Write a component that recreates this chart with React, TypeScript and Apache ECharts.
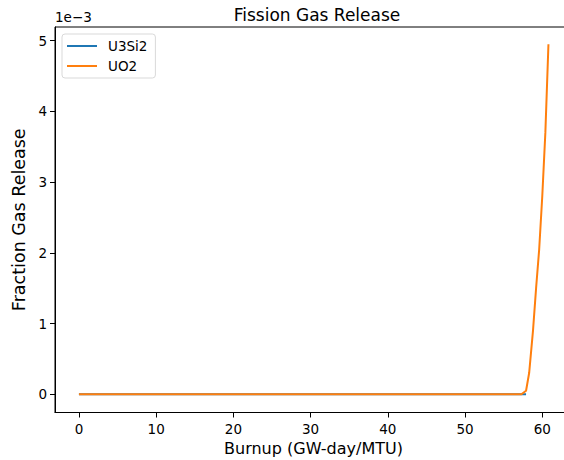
import React, { useEffect, useRef } from "react";
import * as echarts from "echarts";

// Burnup (GW-day/MTU) and fission gas release fraction for each fuel
const u3si2Burnup = [0, 10, 20, 30, 40, 50, 57.9];
const u3si2Release = [0, 0, 0, 0, 0, 0, 0];

const uo2Burnup = [0, 10, 20, 30, 40, 50, 57.3, 57.9, 58.3, 58.8, 59.2, 59.6, 60.0, 60.4, 60.8];
const uo2Release = [0, 0, 0, 0, 0, 0, 0, 0.00005, 0.0003, 0.0009, 0.0015, 0.00205, 0.0028, 0.0037, 0.00495];

const xTicks = [0, 10, 20, 30, 40, 50, 60];
const yTicks = [0, 0.001, 0.002, 0.003, 0.004, 0.005];

const FONT = "DejaVu Sans";
const BLUE = "#1f77b4";
const ORANGE = "#ff7f0e";

function pairs(xs: number[], ys: number[]) {
  return xs.map((x, i) => [x, ys[i]]);
}

export default function App() {
  const ref = useRef<HTMLDivElement>(null);

  useEffect(() => {
    if (!ref.current) return;
    const chart = echarts.init(ref.current, null, { renderer: "svg" });
    chart.setOption({
      animation: false,
      backgroundColor: "#ffffff",
      title: {
        text: "Fission Gas Release",
        left: 312,
        textAlign: "center",
        top: 1,
        textStyle: { fontFamily: FONT, fontSize: 17, fontWeight: "normal", color: "#000" },
      },
      legend: {
        left: 62,
        top: 34,
        orient: "vertical",
        icon: "rect",
        itemWidth: 30,
        itemHeight: 2,
        itemGap: 6,
        padding: [5, 8, 5, 5],
        borderColor: "#d9d9d9",
        borderWidth: 1,
        borderRadius: 3,
        backgroundColor: "rgba(255,255,255,0.8)",
        textStyle: { fontFamily: FONT, fontSize: 13.5, color: "#000", padding: [0, 0, 0, 6] },
        data: ["U3Si2", "UO2"],
      },
      // scale multiplier shown above the y axis
      graphic: [
        {
          type: "text",
          left: 55,
          top: 10,
          style: { text: "1e\u22123", font: `13.5px '${FONT}'`, fill: "#000" },
        },
      ],
      grid: {
        left: 55,
        width: 517,
        top: 27,
        height: 385.5,
        outerBoundsMode: "none",
        show: true,
        borderColor: "#000",
        borderWidth: 1,
        containLabel: false,
      },
      xAxis: {
        type: "value",
        min: -3.1,
        max: 63.85,
        name: "Burnup (GW-day/MTU)",
        nameLocation: "middle",
        nameGap: 27,
        nameTextStyle: { fontFamily: FONT, fontSize: 16, color: "#000" },
        axisLine: { show: true, onZero: false, lineStyle: { color: "#000", width: 1 } },
        axisTick: { show: true, customValues: xTicks, length: 5, lineStyle: { color: "#000" } },
        axisLabel: {
          customValues: xTicks,
          fontFamily: FONT,
          fontSize: 13.5,
          color: "#000",
          margin: 9,
        },
        splitLine: { show: false },
      },
      yAxis: {
        type: "value",
        min: -0.000258,
        max: 0.005194,
        name: "Fraction Gas Release",
        nameLocation: "middle",
        nameGap: 26,
        nameRotate: 90,
        nameTextStyle: { fontFamily: FONT, fontSize: 17.5, color: "#000" },
        axisLine: { show: true, onZero: false, lineStyle: { color: "#000", width: 1 } },
        axisTick: { show: true, customValues: yTicks, length: 5, lineStyle: { color: "#000" } },
        axisLabel: {
          customValues: yTicks,
          fontFamily: FONT,
          fontSize: 13.5,
          color: "#000",
          margin: 8,
          formatter: (v: number) => String(Math.round(v * 1000)),
        },
        splitLine: { show: false },
      },
      series: [
        {
          name: "U3Si2",
          type: "line",
          data: pairs(u3si2Burnup, u3si2Release),
          showSymbol: false,
          symbol: "none",
          lineStyle: { color: BLUE, width: 2 },
          itemStyle: { color: BLUE },
        },
        {
          name: "UO2",
          type: "line",
          data: pairs(uo2Burnup, uo2Release),
          showSymbol: false,
          symbol: "none",
          lineStyle: { color: ORANGE, width: 2 },
          itemStyle: { color: ORANGE },
        },
      ],
    });
    return () => chart.dispose();
  }, []);

  return (
    <div
      ref={ref}
      style={{ position: "fixed", left: 0, top: 0, width: 564, height: 460, overflow: "hidden" }}
    />
  );
}
